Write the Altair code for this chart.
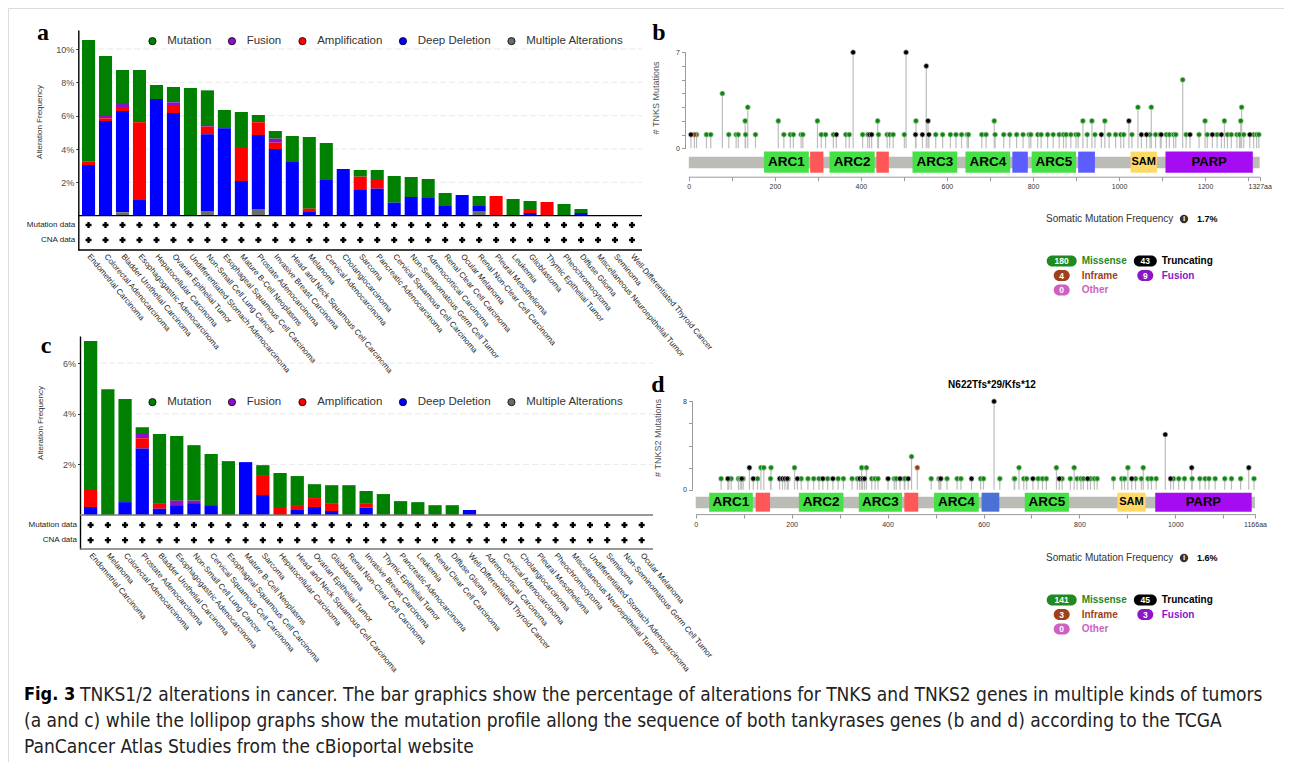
import altair as alt
import pandas as pd

# ---------------- data ----------------
SERIES = ["Mutation", "Fusion", "Amplification", "Deep Deletion", "Multiple Alterations"]
SERIES_COLORS = ["#008000", "#8c10c8", "#ff0000", "#0000ff", "#6b6b6b"]

cats_a = ["Endometrial Carcinoma", "Colorectal Adenocarcinoma", "Bladder Urothelial Carcinoma",
          "Esophagogastric Adenocarcinoma", "Hepatocellular Carcinoma", "Ovarian Epithelial Tumor",
          "Undifferentiated Stomach Adenocarcinoma", "Non-Small Cell Lung Cancer",
          "Esophageal Squamous Cell Carcinoma", "Mature B-Cell Neoplasms", "Prostate Adenocarcinoma",
          "Invasive Breast Carcinoma", "Head and Neck Squamous Cell Carcinoma", "Melanoma",
          "Cervical Adenocarcinoma", "Cholangiocarcinoma", "Sarcoma", "Pancreatic Adenocarcinoma",
          "Cervical Squamous Cell Carcinoma", "Non-Seminomatous Germ Cell Tumor",
          "Adrenocortical Carcinoma", "Renal Clear Cell Carcinoma", "Ocular Melanoma",
          "Renal Non-Clear Cell Carcinoma", "Pleural Mesothelioma", "Leukemia", "Glioblastoma",
          "Thymic Epithelial Tumor", "Pheochromocytoma", "Diffuse Glioma",
          "Miscellaneous Neuroepithelial Tumor", "Seminoma", "Well-Differentiated Thyroid Cancer"]
a_mutation = [7.30, 3.54, 1.98, 3.14, 0.84, 0.92, 7.66, 2.14, 1.10, 2.10, 0.44, 0.46, 1.56, 4.30,
              2.22, 0, 0.40, 0.60, 1.60, 1.20, 1.14, 0.78, 0, 0.60, 0, 1.00, 0.54, 0, 0.70, 0.24,
              0, 0, 0]
a_fusion = [0, 0.20, 0.24, 0, 0, 0.16, 0, 0.04, 0, 0, 0, 0.24, 0, 0, 0, 0, 0, 0, 0, 0, 0, 0, 0,
            0, 0, 0, 0, 0, 0, 0, 0, 0, 0]
a_amplification = [0.20, 0.16, 0.24, 4.66, 0, 0.48, 0, 0.46, 0, 2.04, 0.76, 0.38, 0, 0.20, 0, 0,
                   0.80, 0.52, 0, 0, 0, 0, 0, 0, 1.18, 0, 0.18, 0.82, 0, 0, 0, 0, 0]
a_deep_deletion = [3.04, 5.68, 6.08, 0.94, 7.00, 6.16, 0, 4.60, 5.24, 2.08, 4.44, 4.00, 3.22, 0.22,
                   2.14, 2.80, 1.54, 1.62, 0.78, 1.12, 1.06, 0.58, 1.24, 0.30, 0, 0, 0.16, 0, 0,
                   0.16, 0, 0, 0]
a_multiple = [0, 0, 0.20, 0, 0, 0, 0, 0.28, 0, 0, 0.40, 0, 0, 0, 0, 0, 0, 0, 0, 0, 0, 0, 0, 0.28,
              0, 0, 0, 0, 0, 0, 0, 0, 0]

cats_c = ["Endometrial Carcinoma", "Melanoma", "Colorectal Adenocarcinoma", "Prostate Adenocarcinoma",
          "Bladder Urothelial Carcinoma", "Esophagogastric Adenocarcinoma",
          "Non-Small Cell Lung Cancer", "Cervical Squamous Cell Carcinoma",
          "Esophageal Squamous Cell Carcinoma", "Mature B-Cell Neoplasms", "Sarcoma",
          "Hepatocellular Carcinoma", "Head and Neck Squamous Cell Carcinoma",
          "Ovarian Epithelial Tumor", "Glioblastoma", "Renal Non-Clear Cell Carcinoma",
          "Invasive Breast Carcinoma", "Thymic Epithelial Tumor", "Pancreatic Adenocarcinoma",
          "Leukemia", "Renal Clear Cell Carcinoma", "Diffuse Glioma",
          "Well-Differentiated Thyroid Cancer", "Adrenocortical Carcinoma", "Cervical Adenocarcinoma",
          "Cholangiocarcinoma", "Pleural Mesothelioma", "Pheochromocytoma",
          "Miscellaneous Neuroepithelial Tumor", "Undifferentiated Stomach Adenocarcinoma",
          "Seminoma", "Non-Seminomatous Germ Cell Tumor", "Ocular Melanoma"]
c_mutation = [5.84, 4.97, 4.07, 0.23, 2.73, 2.55, 2.19, 2.02, 2.13, 0, 0.39, 1.38, 1.18, 0.55,
              0.71, 1.18, 0.48, 0.83, 0.55, 0.51, 0.39, 0.39, 0, 0, 0, 0, 0, 0, 0, 0, 0, 0, 0]
c_fusion = [0, 0, 0, 0.21, 0, 0.18, 0.10, 0, 0, 0, 0, 0, 0, 0, 0, 0, 0, 0, 0, 0, 0, 0, 0, 0, 0,
            0, 0, 0, 0, 0, 0, 0, 0]
c_amplification = [0.71, 0, 0, 0.40, 0.22, 0, 0, 0, 0, 0, 0.79, 0.28, 0.16, 0.35, 0.31, 0, 0.18,
                   0, 0, 0, 0, 0, 0, 0, 0, 0, 0, 0, 0, 0, 0, 0, 0]
c_deep_deletion = [0.32, 0, 0.51, 2.63, 0.25, 0.39, 0.47, 0.39, 0, 2.09, 0.79, 0, 0.20, 0.32,
                   0.16, 0, 0.29, 0, 0, 0, 0, 0, 0.20, 0, 0, 0, 0, 0, 0, 0, 0, 0, 0]
c_multiple = [0] * 33

# lollipop b (TNKS, 1327 aa)
b_missense_pos = [78, 131, 137, 208, 299, 439, 528, 710, 916, 937, 967, 1044, 1075, 1148, 1200,
                  1245, 1283, 1285,
                  18, 41, 51, 93, 110, 115, 132, 155, 221, 236, 243, 261, 265, 308, 318, 336, 365,
                  373, 404, 416, 441, 461, 467, 475, 501, 574, 590, 608, 621, 634, 647, 650, 681,
                  691, 712, 732, 746, 762, 777, 791, 795, 811, 819, 834, 847, 861, 871, 877, 888,
                  900, 905, 926, 944, 977, 992, 1004, 1011, 1030, 1072, 1085, 1096, 1110, 1117,
                  1127, 1132, 1156, 1186, 1205, 1228, 1252, 1261, 1274, 1280, 1290, 1313, 1320, 1325]
b_missense_cnt = [4, 2, 3, 2, 2, 2, 2, 2, 2, 2, 2, 3, 3, 5, 2, 2, 2, 3] + [1] * 77
b_trunc_pos = [382, 505, 552, 556, 1023, 5, 343, 420, 425, 527, 543, 558, 959, 1052, 1064, 1098,
               1165, 1217, 1238, 1304]
b_trunc_cnt = [7, 7, 6, 2, 2] + [1] * 15
b_inframe_pos = [13]
b_inframe_cnt = [1]
b_dom_start = [175, 282, 327, 436, 520, 643, 752, 797, 905, 1027, 1108]
b_dom_end = [279, 313, 432, 465, 624, 747, 788, 900, 944, 1088, 1311]
b_dom_label = ["ARC1", "", "ARC2", "", "ARC3", "ARC4", "", "ARC5", "", "SAM", "PARP"]
b_dom_kind = ["ARC", "red", "ARC", "red", "ARC", "ARC", "blue", "ARC", "blue", "SAM", "PARP"]

# lollipop d (TNKS2, 1166 aa)
d_missense_pos = [136, 142, 157, 206, 346, 356, 450, 674, 752, 789, 901, 933,
                  53, 69, 74, 89, 93, 99, 129, 156, 193, 220, 234, 246, 257, 275, 297, 308, 326,
                  337, 367, 374, 380, 414, 418, 435, 436, 491, 507, 524, 545, 553, 594, 600, 634,
                  664, 665, 684, 690, 714, 723, 731, 764, 781, 795, 803, 808, 823, 831, 837, 871,
                  888, 894, 917, 929, 943, 950, 960, 996, 1007, 1019, 1035, 1051, 1062, 1070, 1083,
                  1103, 1117, 1136, 1164]
d_missense_cnt = [2, 2, 2, 2, 2, 2, 3, 2, 2, 2, 2, 2] + [1] * 68
d_trunc_pos = [112, 622, 979, 1034, 1153, 67, 96, 120, 175, 181, 186, 191, 212, 265, 286, 342, 348,
               352, 401, 426, 443, 509, 511, 575, 703, 758, 817, 909, 990]
d_trunc_cnt = [2, 8, 5, 2, 2] + [1] * 24
d_inframe_pos = [462]
d_inframe_cnt = [2]
d_dom_start = [28, 125, 215, 340, 435, 497, 596, 686, 879, 958]
d_dom_end = [119, 155, 308, 430, 464, 590, 633, 778, 938, 1159]
d_dom_label = ["ARC1", "", "ARC2", "ARC3", "", "ARC4", "", "ARC5", "SAM", "PARP"]
d_dom_kind = ["ARC", "red", "ARC", "ARC", "red", "ARC", "blue2", "ARC", "SAM", "PARP"]

b_badges_num = ["180", "43", "4", "9", "0"]
d_badges_num = ["141", "45", "3", "3", "0"]
badge_labels = ["Missense", "Truncating", "Inframe", "Fusion", "Other"]
badge_col = [0, 1, 0, 1, 0]
badge_row = [0, 0, 1, 1, 2]
badge_colors = ["#1f8a1f", "#000000", "#a0401a", "#8a16c8", "#cf5fc4"]

caption_lines = [
    "TNKS1/2 alterations in cancer. The bar graphics show the percentage of alterations for TNKS and TNKS2 genes in multiple kinds of tumors",
    "(a and c) while the lollipop graphs show the mutation profile allong the sequence of both tankyrases genes (b and d) according to the TCGA",
    "PanCancer Atlas Studies from the cBioportal website",
]

# ---------------- layout helpers ----------------
W, H = 1276, 754
OX = OY = 8
SANS = "Liberation Sans, Arial, Helvetica, sans-serif"
COND = "DejaVu Sans Condensed"
SERIF = "Liberation Serif, Times New Roman, serif"
DOM_COLORS = {"ARC": "#45e045", "red": "#ff5757", "blue": "#5d5dff", "blue2": "#4a72d4",
              "SAM": "#ffd966", "PARP": "#a50cf2"}
MUT_COLORS = {"Missense": "#0a8a0a", "Inframe": "#9c3a14", "Truncating": "#000000"}


def cx(x):
    return x - OX


def cy(y):
    return y - OY


def text_at(s, x, y, **kw):
    return alt.Chart(pd.DataFrame({"t": [s]})).mark_text(**kw).encode(
        text="t:N", x=alt.value(x), y=alt.value(y))


def bar_panel(cats, vals, band, line_x, ydom, yrange, axis_x, row_vals, ticks, leg_xy, line_color):
    order = {"Multiple Alterations": 0, "Deep Deletion": 1, "Amplification": 2, "Fusion": 3,
             "Mutation": 4}
    recs = []
    for name, arr in zip(SERIES, vals):
        for c, v in zip(cats, arr):
            if v > 0:
                recs.append({"cat": c, "type": name, "val": v, "ord": order[name]})
    df = pd.DataFrame(recs)
    xs = alt.Scale(domain=cats, range=band, paddingInner=0.23, paddingOuter=0)
    ys = alt.Scale(domain=ydom, range=yrange, nice=False, zero=False)
    xax = alt.Axis(orient="bottom", offset=yrange[0] - H, domain=False, ticks=False,
                   labelAngle=50, labelAlign="left", labelBaseline="middle", labelFontSize=8,
                   labelFont=SANS, labelPadding=5, labelColor="#222", labelLimit=400,
                   labelOverlap=False, title=None, grid=False)
    yax = alt.Axis(orient="left", offset=-axis_x, values=ticks, labelExpr="datum.value + '%'",
                   grid=False, domainColor="black", domainWidth=1.4, tickColor="#333",
                   tickSize=2.5, labelFontSize=9, labelFont=SANS, labelColor="#4d4d4d",
                   labelPadding=2, title=None)

    grid = alt.Chart(pd.DataFrame({"g": ticks})).mark_rule(
        color="#e6e6e6", strokeDash=[6, 3], strokeWidth=0.9).encode(
        x=alt.value(line_x[0] + 2), x2=alt.value(line_x[1]),
        y=alt.Y("g:Q", scale=ys, axis=yax))
    bars = alt.Chart(df).mark_bar().encode(
        x=alt.X("cat:N", scale=xs, axis=xax),
        y=alt.Y("val:Q", stack="zero", scale=ys, axis=yax),
        color=alt.Color("type:N", scale=alt.Scale(domain=SERIES, range=SERIES_COLORS),
                        legend=alt.Legend(orient="none", legendX=leg_xy[0], legendY=leg_xy[1],
                                          direction="horizontal", title=None,
                                          symbolType="circle", symbolSize=52,
                                          symbolStrokeColor="black", symbolStrokeWidth=0.8,
                                          labelFontSize=11.5, labelFont=SANS,
                                          labelColor="#333", columnPadding=14.5, labelOffset=9,
                                          padding=0, symbolOpacity=1)),
        order=alt.Order("ord:Q", sort="ascending"))
    base = alt.Chart(pd.DataFrame({"b": [0, ydom[0]]})).mark_rule(
        color=line_color, strokeWidth=1.4).encode(
        x=alt.value(line_x[0]), x2=alt.value(line_x[1]), y=alt.Y("b:Q", scale=ys, axis=yax))
    rows = pd.DataFrame([{"cat": c, "r": r} for r in row_vals for c in cats])
    plus = alt.Chart(rows).mark_point(shape="cross", filled=True, size=36, color="black",
                                      opacity=1).encode(
        x=alt.X("cat:N", scale=xs, axis=xax), y=alt.Y("r:Q", scale=ys, axis=yax))
    rowlab = alt.Chart(pd.DataFrame({"lab": ["Mutation data", "CNA data"], "r": row_vals})).mark_text(
        align="right", baseline="middle", fontSize=8, font=SANS, color="#222").encode(
        text="lab:N", x=alt.value(axis_x - 3), y=alt.Y("r:Q", scale=ys, axis=yax))
    return alt.layer(grid, bars, base, plus, rowlab)


def lollipop(length, xrange, ydom, yrange, axis_x, ymax, yvals, box_y, bb_y, starts, ends, labels,
             kinds, mis_p, mis_c, tr_p, tr_c, inf_p, inf_c):
    xs = alt.Scale(domain=[0, length], range=xrange, nice=False, zero=False)
    ys = alt.Scale(domain=ydom, range=yrange, nice=False, zero=False)
    tickvals = list(range(0, length, 100)) + [length]
    xax = alt.Axis(orient="bottom", offset=yrange[0] - H, values=tickvals,
                   labelExpr="datum.value == %d ? '%daa' : (datum.value %% 200 == 0 ? datum.value : '')" % (length, length),
                   domainColor="#9a9a9a", tickColor="#9a9a9a", tickSize=4, labelFontSize=7,
                   labelFont=SANS, labelColor="#333", labelPadding=2, grid=False, title=None,
                   labelFlush=False, labelOverlap=False)
    yax = alt.Axis(orient="left", offset=-axis_x, values=yvals,
                   labelExpr="datum.value == 0 || datum.value == %d ? datum.value : ''" % ymax,
                   domain=False, tickColor="#9a9a9a", tickSize=4, labelFontSize=7,
                   labelFont=SANS, labelColor="#333", labelPadding=2, grid=False, title=None)
    X = lambda f: alt.X(f, type="quantitative", scale=xs, axis=xax)
    Y = lambda f: alt.Y(f, type="quantitative", scale=ys, axis=yax)

    backbone = alt.Chart(pd.DataFrame({"s": [0], "e": [length], "y0": [bb_y[0]], "y1": [bb_y[1]]})).mark_rect(
        color="#bcbcb6").encode(x=X("s"), x2="e", y=Y("y0"), y2="y1")
    dd = pd.DataFrame({"s": starts, "e": ends, "lab": labels, "kind": kinds})
    dd["clr"] = dd["kind"].map(DOM_COLORS)
    dd["m"] = (dd["s"] + dd["e"]) / 2
    dd["y0"] = box_y[0]
    dd["y1"] = box_y[1]
    dd["ym"] = (box_y[0] + box_y[1]) / 2
    doms = alt.Chart(dd).mark_rect().encode(
        x=X("s"), x2="e", y=Y("y0"), y2="y1", fill=alt.Fill("clr:N", scale=None))
    dl = alt.Chart(dd[dd["lab"].isin(["ARC1", "ARC2", "ARC3", "ARC4", "ARC5"])]).mark_text(
        fontSize=13.5, fontWeight="bold", font=SANS, color="black").encode(
        x=X("m"), y=Y("ym"), text="lab:N")
    dl2 = alt.Chart(dd[dd["lab"] == "PARP"]).mark_text(
        fontSize=13, fontWeight="bold", font=SANS, color="black").encode(
        x=X("m"), y=Y("ym"), text="lab:N")
    dl3 = alt.Chart(dd[dd["lab"] == "SAM"]).mark_text(
        fontSize=11, fontWeight="bold", font=SANS, color="black").encode(
        x=X("m"), y=Y("ym"), text="lab:N")

    recs = []
    for p, c in zip(mis_p, mis_c):
        recs.append({"pos": p, "cnt": c, "t": "Missense", "o": 0})
    for p, c in zip(inf_p, inf_c):
        recs.append({"pos": p, "cnt": c, "t": "Inframe", "o": 1})
    for p, c in zip(tr_p, tr_c):
        recs.append({"pos": p, "cnt": c, "t": "Truncating", "o": 2})
    ld = pd.DataFrame(recs)
    ld["base"] = 0
    ld["clr"] = ld["t"].map(MUT_COLORS)
    stems = alt.Chart(ld).mark_rule(color="#bdbdbd", strokeWidth=1.2).encode(
        x=X("pos"), y=Y("base"), y2="cnt")
    heads = alt.Chart(ld).mark_point(shape="circle", filled=True, size=26, opacity=1,
                                     stroke="#cfcfcf", strokeWidth=0.7).encode(
        x=X("pos"), y=Y("cnt"), fill=alt.Fill("clr:N", scale=None), order=alt.Order("o:Q"))
    yline = alt.Chart(pd.DataFrame({"y0": [0], "y1": [ymax]})).mark_rule(
        color="#9a9a9a", strokeWidth=1).encode(x=alt.value(axis_x), y=Y("y0"), y2="y1")
    return alt.layer(backbone, doms, dl, dl2, dl3, stems, heads, yline)


def badges(nums, xcenters, xlabels, yrows):
    bd = pd.DataFrame({"num": nums, "lab": badge_labels, "col": badge_col, "row": badge_row,
                       "clr": badge_colors})
    bd["w"] = bd["num"].str.len()
    xs_p = alt.Scale(domain=[0, 1], range=xcenters, padding=0)
    xs_l = alt.Scale(domain=[0, 1], range=xlabels, padding=0)
    ys = alt.Scale(domain=[0, 1, 2], range=yrows, padding=0)
    shapes = {3: "M-1.73,-1 L1.73,-1 A1,1 0 0 1 1.73,1 L-1.73,1 A1,1 0 0 1 -1.73,-1 Z",
              2: "M-1.09,-1 L1.09,-1 A1,1 0 0 1 1.09,1 L-1.09,1 A1,1 0 0 1 -1.09,-1 Z",
              1: "M-0.45,-1 L0.45,-1 A1,1 0 0 1 0.45,1 L-0.45,1 A1,1 0 0 1 -0.45,-1 Z"}
    layers = []
    for w, path in shapes.items():
        layers.append(alt.Chart(bd[bd["w"] == w]).mark_point(
            shape=path, filled=True, size=121, opacity=1, strokeWidth=0).encode(
            x=alt.X("col:O", scale=xs_p, axis=None),
            y=alt.Y("row:O", scale=ys, axis=None),
            fill=alt.Fill("clr:N", scale=None)))
    nums_t = alt.Chart(bd).mark_text(fontSize=8.5, fontWeight="bold", font=SANS, color="white",
                                     baseline="middle").encode(
        x=alt.X("col:O", scale=xs_p, axis=None), y=alt.Y("row:O", scale=ys, axis=None),
        text="num:N")
    labs = alt.Chart(bd).mark_text(fontSize=10, fontWeight="bold", font=SANS, align="left",
                                   baseline="middle").encode(
        x=alt.X("col:O", scale=xs_l, axis=None), y=alt.Y("row:O", scale=ys, axis=None),
        text="lab:N", fill=alt.Fill("clr:N", scale=None))
    return alt.layer(*layers, nums_t), labs


# ---------------- panels ----------------
panel_a = bar_panel(cats_a, [a_mutation, a_fusion, a_amplification, a_deep_deletion, a_multiple],
                    [cx(82), cx(638.5)], [cx(78.3), cx(642)], [-2.06, 11.14], [cy(250), cy(30)],
                    cx(78.3), [-0.56, -1.46], [2, 4, 6, 8, 10], [cx(146.7), cy(35)], "black")
panel_c = bar_panel(cats_c, [c_mutation, c_fusion, c_amplification, c_deep_deletion, c_multiple],
                    [cx(84), cx(648.3)], [cx(80), cx(653)], [-1.34, 7.07], [cy(549), cy(336)],
                    cx(80), [-0.39, -0.99], [2, 4, 6], [cx(146.7), cy(396)], "#777777")

panel_b = lollipop(1327, [cx(688.8), cx(1259.7)], [-2.07, 7.6], [cy(176.7), cy(44.1)], cx(685.5), 7,
                   list(range(0, 8)), [-0.24, -1.78], [-0.61, -1.46],
                   b_dom_start, b_dom_end, b_dom_label, b_dom_kind,
                   b_missense_pos, b_missense_cnt, b_trunc_pos, b_trunc_cnt,
                   b_inframe_pos, b_inframe_cnt)
panel_d = lollipop(1166, [cx(695.7), cx(1255)], [-2.21, 8.6], [cy(514.1), cy(394.8)], cx(692.5), 8,
                   [0, 2, 4, 6, 8], [-0.27, -1.99], [-0.63, -1.69],
                   d_dom_start, d_dom_end, d_dom_label, d_dom_kind,
                   d_missense_pos, d_missense_cnt, d_trunc_pos, d_trunc_cnt,
                   d_inframe_pos, d_inframe_cnt)

bb_b, bl_b = badges(b_badges_num, [cx(1061.7), cx(1145.3)], [cx(1081.7), cx(1161.7)],
                    [cy(261), cy(290)])
bb_d, bl_d = badges(d_badges_num, [cx(1061.7), cx(1145.3)], [cx(1081.7), cx(1161.7)],
                    [cy(600), cy(629)])

texts = [
    text_at("a", cx(43), cy(40), fontSize=24, fontWeight="bold", font=SERIF, baseline="alphabetic"),
    text_at("c", cx(46), cy(353), fontSize=24, fontWeight="bold", font=SERIF, baseline="alphabetic"),
    text_at("b", cx(659), cy(40), fontSize=24, fontWeight="bold", font=SERIF, baseline="alphabetic"),
    text_at("d", cx(658), cy(392), fontSize=24, fontWeight="bold", font=SERIF, baseline="alphabetic"),
    text_at("Alteration Frequency", cx(40), cy(122), fontSize=8, font=SANS, color="#333", angle=270),
    text_at("Alteration Frequency", cx(41), cy(423), fontSize=8, font=SANS, color="#333", angle=270),
    text_at("# TNKS Mutations", cx(656), cy(98), fontSize=9, font=SANS, color="#555", angle=270),
    text_at("# TNKS2 Mutations", cx(658), cy(438), fontSize=9, font=SANS, color="#555", angle=270),
    text_at("N622Tfs*29/Kfs*12", cx(992), cy(385), fontSize=10, fontWeight="bold", font=SANS),
    text_at("Somatic Mutation Frequency", cx(1046), cy(219), fontSize=10, font=SANS,
            color="#333", align="left"),
    text_at("1.7%", cx(1197), cy(219), fontSize=9, fontWeight="bold", font=SANS, align="left"),
    text_at("Somatic Mutation Frequency", cx(1046), cy(558), fontSize=10, font=SANS,
            color="#333", align="left"),
    text_at("1.6%", cx(1197), cy(558), fontSize=9, fontWeight="bold", font=SANS, align="left"),
    text_at("Fig. 3", cx(24), cy(695), fontSize=18, fontWeight="bold", font=COND, align="left"),
    text_at(caption_lines[0], cx(80), cy(695), fontSize=19, font=COND, align="left", color="#222"),
    text_at(caption_lines[1], cx(24), cy(721), fontSize=19, font=COND, align="left", color="#222"),
    text_at(caption_lines[2], cx(24), cy(747), fontSize=19, font=COND, align="left", color="#222"),
]
info_icons = []
for yy in (219, 558):
    info_icons.append(alt.Chart(pd.DataFrame({"k": [0]})).mark_point(
        shape="circle", filled=True, size=70, color="#333", opacity=1).encode(
        x=alt.value(cx(1184)), y=alt.value(cy(yy))))
    info_icons.append(text_at("i", cx(1184), cy(yy), fontSize=8, fontWeight="bold", font=SANS,
                              color="white"))

chart = alt.layer(panel_a, panel_c, panel_b, panel_d, bb_b, bl_b, bb_d, bl_d,
                  *texts, *info_icons).resolve_scale(
    x="independent", y="independent", color="independent").resolve_axis(
    x="independent", y="independent").resolve_legend(color="independent").properties(
    width=W, height=H, autosize=alt.AutoSizeParams(type="none"), padding=0).configure_view(
    stroke="#8a8a8a", strokeWidth=1.2, cornerRadius=12).configure(
    font=SANS, background="white")

chart.save("out.html", embed_options={"renderer": "svg", "actions": False})
